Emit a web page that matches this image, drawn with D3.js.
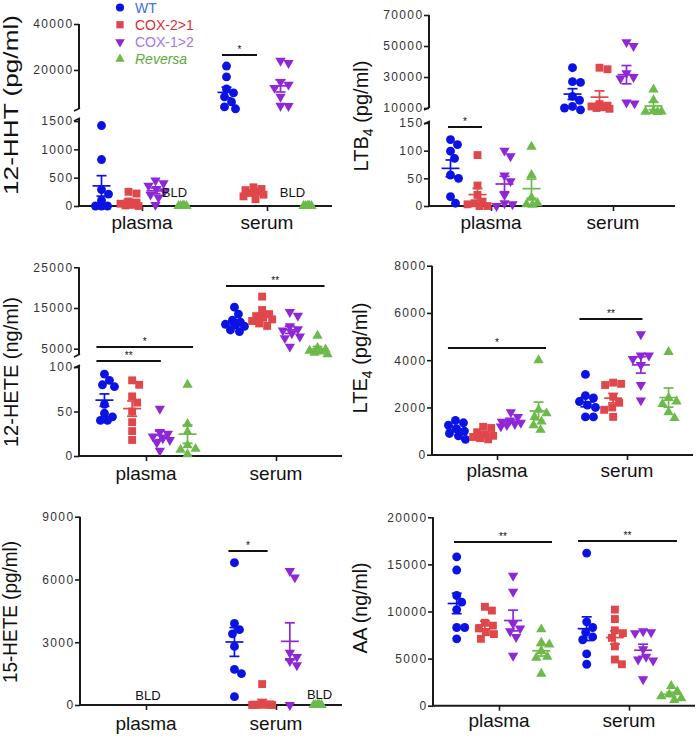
<!DOCTYPE html>
<html><head><meta charset="utf-8">
<script src="https://cdn.jsdelivr.net/npm/d3@7"></script>
<style>body{margin:0;background:#fff}svg{display:block}</style>
</head><body><svg id="c" width="697" height="736"></svg>
<script>
const groups = ["WT","COX-2>1","COX-1>2","Reversa"];
const categories = ["plasma","serum"];
const colors = ["#0b12e4","#e0474a","#8e27d8","#6cba4a"];
const legendColors = ["#3d6fe6","#d8302e","#a278e6","#5aac3a"];

// 12-HHT (pg/ml)
const hhtPlasma = [[1420,820,290,210,100,0,0,0],[250,220,80,60,40,20,10,0],[450,400,360,300,260,200,150,20],[0,0,0,0,0,0]];
const hhtSerum  = [[21700,17000,11700,10000,8300,6100,3900,3100],[330,300,280,250,230,200,170,120],[24000,23000,14800,13600,12200,8300,4400,4300],[0,0,0,0,0,0]];
const hhtTicksBottom = [0,500,1000,1500];
const hhtTicksTop = [20000,40000];

// LTB4 (pg/ml)
const ltb4Plasma = [[120,111,99,86,56,50,17,5],[92,37,20,8,5,3,0,0],[100,90,55,45,20,5,3,0],[107,56,15,5,3,2]];
const ltb4Serum  = [[36000,27000,26500,17500,15000,11000,10000,8800],[36000,35000,12500,11500,11000,10500,10000,9500],[52500,50000,32500,30000,29000,13500,13000],[22000,15000,8000,7800,7600,7400]];
const ltb4TicksBottom = [0,50,100,150];
const ltb4TicksTop = [10000,30000,50000,70000];

// 12-HETE (ng/ml)
const heteP = [[92,85,80,78,58,48,44,40,40],[85,80,67,60,50,38,28,18],[53,27,25,22,20,18,15,6],[80,36,27,12,8,7,2]];
const heteS = [[15200,13500,12000,11500,11000,10800,10500,9600,9200],[17800,14500,13500,13000,12600,12200,11800,11200,10600],[14000,13100,10500,9800,9500,8800,8000,7600,5500],[8200,5200,4800,4500,4300,4000,3600]];
const heteTicksBottom = [0,50,100];
const heteTicksTop = [5000,15000,25000];

// LTE4 (pg/ml)
const lte4P = [[1450,1350,1250,1100,1000,900,800,650],[1180,1130,950,850,800,750,700,650],[1800,1600,1450,1400,1350,1300,1250,1200],[4000,1900,1750,1600,1400,1250,1050]];
const lte4S = [[3400,2500,2400,2250,2100,2000,1600,1600],[3050,3000,2950,2450,2200,2000,1900,1600],[5100,4200,4200,4050,3800,2950,2300],[4350,2400,2250,2150,1800,1550]];
const lte4Ticks = [0,2000,4000,6000,8000];

// 15-HETE (pg/ml)
const h15P = [[],[],[],[]];
const h15S = [[6800,3900,3600,3400,2800,1700,1500,400],[1000,50,30,20,10,5,0,0],[6400,6100,2500,2300,2100,1900,0],[0,0,0,0,0,0]];
const h15Ticks = [0,3000,6000,9000];

// AA (ng/ml)
const aaP = [[15800,14400,11700,11000,10200,8300,8300,7100],[10500,10100,8800,8500,8200,7800,7600,7100],[13800,12100,8700,8200,7900,7300,5300],[8100,6700,6500,5800,5200,5100,3400]];
const aaS = [[16200,8900,8300,7800,7300,7000,5500,4400],[10200,9200,8000,7700,7200,6300,4900,4400],[7900,7800,7700,6000,5200,4900,4800,2800],[2100,1500,1200,1000,800,600]];
const aaTicks = [0,5000,10000,15000,20000];

const svg = d3.select("#c");
const font = "'Liberation Sans', Arial, Helvetica, sans-serif";
const symbols = [d3.symbolCircle, d3.symbolSquare, d3.symbolTriangle, d3.symbolTriangle];
const rotations = [0,0,180,0];
const sizes = [62, 62, 46, 46];
const AX = "#1a1a1a";

const panels = [
 {label:["12-HHT (pg/ml)"], lx:18, ly:105, llen:180, ax:79, xEnd:332, cats:[142,267], gs:27, y0:206, catBase:229,
  segs:[{domain:[0,1500], range:[206,121], ticks:hhtTicksBottom, line:[206,119]},
        {domain:[3000,40000], range:[109,24], ticks:hhtTicksTop, line:[109,24]}],
  data:[hhtPlasma,hhtSerum], segOf:[[0,0,0,0],[1,0,1,0]], bld:[[0,0,0,1],[0,0,0,1]],
  bldText:[{c:0,g:3,dx:-8,dy:-9},{c:1,g:3,dx:-15,dy:-9}],
  stars:[{c:1,g1:0,g2:1,t:"*",y:55,pad:[4.5,3.5]}]},
 {label:["LTB","4"," (pg/ml)"], lx:368, ly:116, ax:429, xEnd:675, cats:[491,613], gs:27, y0:206, catBase:229,
  segs:[{domain:[0,150], range:[206,123], ticks:ltb4TicksBottom, line:[206,122]},
        {domain:[10000,70000], range:[108,15], ticks:ltb4TicksTop, line:[108,15]}],
  data:[ltb4Plasma,ltb4Serum], segOf:[[0,0,0,0],[1,1,1,1]], bld:[[0,0,0,0],[0,0,0,0]], bldText:[],
  stars:[{c:0,g1:0,g2:1,t:"*",y:127,pad:[2.5,4.5]}]},
 {label:["12-HETE (ng/ml)"], lx:18, ly:372, llen:150, ax:79, xEnd:342, cats:[146,276], gs:27.7, y0:456, catBase:480,
  segs:[{domain:[0,100], range:[456,367], ticks:heteTicksBottom, line:[456,366]},
        {domain:[3500,25000], range:[354.8,267.3], ticks:heteTicksTop, line:[355,267.3]}],
  data:[heteP,heteS], segOf:[[0,0,0,0],[1,1,1,1]], bld:[[0,0,0,0],[0,0,0,0]], bldText:[],
  stars:[{c:0,g1:0,g2:3,t:"*",y:347,pad:[8,5.5]},{c:0,g1:0,g2:2,t:"**",y:361,pad:[8,1]},{c:1,g1:0,g2:3,t:"**",y:286,pad:[8.5,7]}]},
 {label:["LTE","4"," (pg/ml)"], lx:367, ly:358, ax:432, xEnd:693, cats:[497,627], gs:27.7, y0:455, catBase:477,
  segs:[{domain:[0,8000], range:[454.7,265.7], ticks:lte4Ticks, line:[455,265.7]}],
  data:[lte4P,lte4S], segOf:[[0,0,0,0],[0,0,0,0]], bld:[[0,0,0,0],[0,0,0,0]], bldText:[],
  stars:[{c:0,g1:0,g2:3,t:"*",y:348,pad:[7.5,7.5]},{c:1,g1:0,g2:2,t:"**",y:319,pad:[6,1.6]}]},
 {label:["15-HETE (pg/ml)"], lx:17, ly:612, llen:142, ax:80, xEnd:342, cats:[146,276], gs:27.7, y0:705, catBase:730,
  segs:[{domain:[0,9000], range:[705,516.7], ticks:h15Ticks, line:[705,516.7]}],
  data:[h15P,h15S], segOf:[[0,0,0,0],[0,0,0,0]], bld:[[1,1,1,1],[0,0,0,1]],
  bldText:[{c:0,g:null,dx:2,dy:-5},{c:1,g:3,dx:2,dy:-6}],
  stars:[{c:1,g1:0,g2:1,t:"*",y:551,pad:[6,5.5]}]},
 {label:["AA (ng/ml)"], lx:367, ly:608, llen:91, ax:433, xEnd:695, cats:[499,629], gs:28.2, y0:705.7, catBase:727,
  segs:[{domain:[0,20000], range:[705.7,517.3], ticks:aaTicks, line:[705.7,517.3]}],
  data:[aaP,aaS], segOf:[[0,0,0,0],[0,0,0,0]], bld:[[0,0,0,0],[0,0,0,0]], bldText:[],
  stars:[{c:0,g1:0,g2:3,t:"**",y:542,pad:[2.7,10.7]},{c:1,g1:0,g2:3,t:"**",y:541,pad:[8.7,5.7]}]}
];

function swarm(vals, yScale, cx, r, maxOff){
  const pts = vals.map(v=>({v, y:yScale(v)})).sort((a,b)=>a.y-b.y);
  const placed = [];
  pts.forEach(p=>{
    let best = 0, bestD = -1;
    for(let k=0;k<=2*maxOff;k++){
      const off = (k%2 ? 1 : -1)*Math.ceil(k/2);
      let minD = Infinity;
      placed.forEach(q=>{const d=Math.hypot(q.x-(cx+off), q.y-p.y); if(d<minD) minD=d;});
      if(minD >= 2*r*0.92){best=off; bestD=minD; break;}
      if(minD > bestD){bestD=minD; best=off;}
    }
    p.x = cx+best; placed.push(p);
  });
  return pts;
}

function drawPanel(p){
  const g = svg.append("g");
  const xCat = d3.scalePoint().domain(categories).range(p.cats);
  const gx = (ci,gi) => xCat(categories[ci]) + (gi-1.5)*p.gs;
  const ys = p.segs.map(s=>d3.scaleLinear().domain(s.domain).range(s.range));

  // y axis segments
  p.segs.forEach((s,i)=>{
    const axis = d3.axisLeft(ys[i]).tickValues(s.ticks).tickSize(5).tickSizeOuter(0).tickPadding(0.5).tickFormat(d3.format("d"));
    const a = g.append("g").attr("transform",`translate(${p.ax},0)`).call(axis);
    a.select(".domain").remove();
    a.selectAll(".tick line").attr("stroke",AX).attr("stroke-width",1.6);
    a.selectAll(".tick text").attr("font-family",font).attr("font-size",12)
      .attr("letter-spacing","1.4px").attr("fill","#333");
    g.append("line").attr("x1",p.ax).attr("x2",p.ax).attr("y1",s.line[0]).attr("y2",s.line[1])
      .attr("stroke",AX).attr("stroke-width",2);
  });
  if(p.segs.length===2){
    const yb = p.segs[0].line[1], yt = p.segs[1].line[0];
    g.append("line").attr("x1",p.ax-5).attr("y1",yt+2).attr("x2",p.ax+1).attr("y2",yt-1).attr("stroke",AX).attr("stroke-width",1.6);
    g.append("line").attr("x1",p.ax-5).attr("y1",yb+2).attr("x2",p.ax+1).attr("y2",yb-1).attr("stroke",AX).attr("stroke-width",1.6);
  }
  // x axis
  g.append("line").attr("x1",p.ax-1).attr("x2",p.xEnd).attr("y1",p.y0).attr("y2",p.y0).attr("stroke",AX).attr("stroke-width",2);
  const xa = d3.axisBottom(xCat).tickSize(5).tickSizeOuter(0).tickFormat("");
  const xg = g.append("g").attr("transform",`translate(0,${p.y0})`).call(xa);
  xg.select(".domain").remove();
  xg.selectAll(".tick line").attr("stroke",AX).attr("stroke-width",1.6);
  categories.forEach(c=>{
    g.append("text").attr("x",xCat(c)).attr("y",p.catBase).attr("text-anchor","middle")
      .attr("font-family",font).attr("font-size",19).attr("fill","#111").text(c);
  });

  // y label
  const lab = g.append("text").attr("transform",`translate(${p.lx},${p.ly}) rotate(-90)`)
    .attr("text-anchor","middle").attr("font-family",font).attr("font-size",20).attr("fill","#111");
  if(p.label.length===1){
    lab.attr("textLength",p.llen).attr("lengthAdjust","spacingAndGlyphs").text(p.label[0]);
  } else {
    lab.append("tspan").text(p.label[0]);
    lab.append("tspan").attr("font-size",14).attr("dy",5).text(p.label[1]);
    lab.append("tspan").attr("dy",-5).text(p.label[2]);
  }

  // points and mean/sem
  p.data.forEach((cat,ci)=>{
    cat.forEach((vals,gi)=>{
      if(!vals.length) return;
      const y = ys[p.segOf[ci][gi]];
      const cx = gx(ci,gi);
      const isBld = p.bld[ci][gi];
      const pts = swarm(vals, y, cx, 4.3, isBld ? 4 : 10);
      const sym = d3.symbol().type(symbols[gi]).size(sizes[gi]);
      g.append("g").selectAll("path").data(pts).join("path")
        .attr("d",sym).attr("fill",colors[gi])
        .attr("transform",d=>`translate(${d.x},${d.y}) rotate(${rotations[gi]})`);
      if(!isBld){
        const m = d3.mean(vals);
        const se = d3.deviation(vals)/Math.sqrt(vals.length);
        const lg = g.append("g").attr("stroke",colors[gi]).attr("stroke-width",1.7);
        lg.append("line").attr("x1",cx-9).attr("x2",cx+9).attr("y1",y(m)).attr("y2",y(m));
        lg.append("line").attr("x1",cx).attr("x2",cx).attr("y1",y(m-se)).attr("y2",y(m+se));
        [m-se,m+se].forEach(v=>lg.append("line").attr("x1",cx-5).attr("x2",cx+5).attr("y1",y(v)).attr("y2",y(v)));
      }
    });
  });

  // BLD labels
  p.bldText.forEach(b=>{
    const x = (b.g===null ? xCat(categories[b.c]) : gx(b.c,b.g)) + b.dx;
    g.append("text").attr("x",x).attr("y",p.y0+b.dy).attr("text-anchor","middle")
      .attr("font-family",font).attr("font-size",13).attr("fill","#111").text("BLD");
  });

  // significance bars
  p.stars.forEach(s=>{
    const x1 = gx(s.c,s.g1)-s.pad[0], x2 = gx(s.c,s.g2)+s.pad[1];
    g.append("line").attr("x1",x1).attr("x2",x2).attr("y1",s.y).attr("y2",s.y).attr("stroke","#111").attr("stroke-width",2);
    g.append("text").attr("x",(x1+x2)/2).attr("y",s.y-2.5).attr("text-anchor","middle")
      .attr("font-family",font).attr("font-size",10).attr("fill","#111").text(s.t);
  });
}
panels.forEach(drawPanel);

// legend
const leg = svg.append("g");
groups.forEach((name,i)=>{
  const yy = 7.5 + i*17.2;
  leg.append("path").attr("d",d3.symbol().type(symbols[i]).size(sizes[i]*0.85)())
    .attr("fill",colors[i]).attr("transform",`translate(120,${yy}) rotate(${rotations[i]})`);
  leg.append("text").attr("x",135).attr("y",yy+5).attr("font-family",font).attr("font-size",14)
    .attr("fill",legendColors[i]).attr("font-style", i===3 ? "italic" : "normal").text(name);
});
</script>
</body></html>
